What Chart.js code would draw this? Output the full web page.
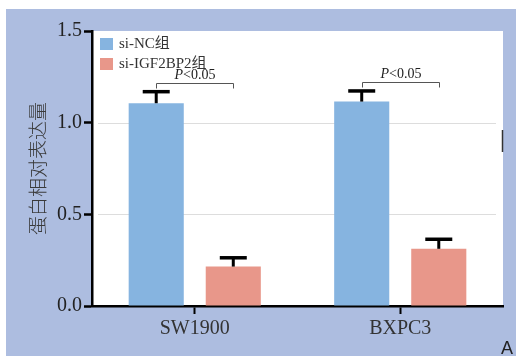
<!DOCTYPE html>
<html>
<head>
<meta charset="utf-8">
<script src="https://cdn.jsdelivr.net/npm/chart.js@4/dist/chart.umd.min.js"></script>
<style>
  body { margin: 0; background: #fff; }
</style>
</head>
<body>
<canvas id="bar-graph" width="516" height="356"></canvas>
<script>
const ctx = document.getElementById('bar-graph');
const COLOR_BLUE = '#86b4e0';
const COLOR_RED = '#e8978a';
const COLOR_BG = '#adbde0';
const SERIF = "'Liberation Serif', 'Noto Sans CJK SC', serif";

const categories = ['SW1900', 'BXPC3'];
const seriesNames = ['si-NC组', 'si-IGF2BP2组'];
const ncValues = [1.106, 1.115];
const ncErrors = [0.063, 0.058];
const igfValues = [0.215, 0.312];
const igfErrors = [0.048, 0.052];
const pLabels = ['P<0.05', 'P<0.05'];
const yTicks = [0, 0.5, 1.0, 1.5];

// background frame + white plot area
const framePlugin = {
    id: 'frame',
    beforeDraw(chart) {
        const c = chart.ctx;
        const a = chart.chartArea;
        c.save();
        c.fillStyle = COLOR_BG;
        c.fillRect(6, 9, chart.width - 6, chart.height - 9);
        c.fillStyle = '#fff';
        c.fillRect(a.left, a.top, a.right - a.left, a.bottom - a.top);
        // light grid lines, inset from the edges
        const y = chart.scales.y;
        c.strokeStyle = '#dddddd';
        c.lineWidth = 1;
        yTicks.forEach(v => {
            if (v === 0 || v === 1.5) return;
            const py = Math.round(y.getPixelForValue(v)) + 0.5;
            c.beginPath();
            c.moveTo(a.left + 6, py);
            c.lineTo(a.right - 7, py);
            c.stroke();
        });
        c.restore();
    },
    afterDraw(chart) {
        const c = chart.ctx;
        c.save();
        c.fillStyle = '#222';
        c.font = "18px 'Liberation Sans', sans-serif";
        c.textAlign = 'right';
        c.textBaseline = 'alphabetic';
        c.fillText('A', 513, 354);
        c.strokeStyle = '#333';
        c.lineWidth = 1.5;
        c.beginPath();
        c.moveTo(502.5, 130);
        c.lineTo(502.5, 152);
        c.stroke();
        c.restore();
    }
};

// error bars, significance brackets and legend
const annotPlugin = {
    id: 'annot',
    afterDatasetsDraw(chart) {
        const c = chart.ctx;
        const y = chart.scales.y;
        const errs = [ncErrors, igfErrors];
        c.save();
        c.strokeStyle = '#000';
        chart.data.datasets.forEach((ds, di) => {
            chart.getDatasetMeta(di).data.forEach((bar, i) => {
                const top = y.getPixelForValue(ds.data[i] + errs[di][i]);
                c.lineWidth = 3;
                c.beginPath();
                c.moveTo(bar.x, bar.y);
                c.lineTo(bar.x, top);
                c.stroke();
                c.lineWidth = 3.5;
                c.beginPath();
                c.moveTo(bar.x - 13.5, top);
                c.lineTo(bar.x + 13.5, top);
                c.stroke();
            });
        });
        // brackets
        const m0 = chart.getDatasetMeta(0).data;
        const m1 = chart.getDatasetMeta(1).data;
        categories.forEach((cat, i) => {
            const topVal = Math.max(ncValues[i] + ncErrors[i], igfValues[i] + igfErrors[i]);
            const by = Math.round(y.getPixelForValue(topVal)) - 8.5;
            const x0 = Math.round(m0[i].x) + 0.5;
            const x1 = Math.round(m1[i].x) + 0.5;
            c.strokeStyle = '#555';
            c.lineWidth = 1;
            c.beginPath();
            c.moveTo(x0, by + 5);
            c.lineTo(x0, by);
            c.lineTo(x1, by);
            c.lineTo(x1, by + 5);
            c.stroke();
            const label = pLabels[i];
            c.fillStyle = '#222';
            c.textBaseline = 'alphabetic';
            c.font = "italic 14px " + SERIF;
            const wP = c.measureText(label[0]).width;
            c.font = "14px " + SERIF;
            const wR = c.measureText(label.slice(1)).width;
            const sx = (x0 + x1) / 2 - (wP + wR) / 2;
            c.textAlign = 'left';
            c.font = "italic 14px " + SERIF;
            c.fillText(label[0], sx, by - 5);
            c.font = "14px " + SERIF;
            c.fillText(label.slice(1), sx + wP, by - 5);
        });
        // legend
        const a = chart.chartArea;
        chart.data.datasets.forEach((ds, di) => {
            const ly = a.top + 7 + di * 20;
            c.fillStyle = ds.backgroundColor;
            c.fillRect(a.left + 8, ly, 13, 12);
            c.fillStyle = '#333';
            c.font = "15px " + SERIF;
            c.textAlign = 'left';
            c.textBaseline = 'middle';
            c.fillText(ds.label, a.left + 27, ly + 6.5);
        });
        c.restore();
    }
};

new Chart(ctx, {
    type: 'bar',
    data: {
        labels: categories,
        datasets: [
            { label: seriesNames[0], data: ncValues, backgroundColor: COLOR_BLUE },
            { label: seriesNames[1], data: igfValues, backgroundColor: COLOR_RED }
        ]
    },
    options: {
        responsive: false,
        animation: false,
        events: [],
        layout: { padding: { left: 0, top: 31, right: 13, bottom: 0 } },
        datasets: {
            bar: { categoryPercentage: 0.75, barPercentage: 0.715 }
        },
        plugins: {
            legend: { display: false },
            tooltip: { enabled: false }
        },
        scales: {
            x: {
                afterFit(scale) { scale.height = 50; },
                border: { color: '#000', width: 2.5 },
                grid: {
                    offset: false,
                    drawOnChartArea: false,
                    tickLength: 8,
                    tickColor: '#000',
                    tickWidth: 2
                },
                ticks: {
                    color: '#333',
                    padding: 3,
                    font: { family: SERIF, size: 20 }
                }
            },
            y: {
                min: 0,
                max: 1.5,
                afterFit(scale) { scale.width = 92; },
                afterBuildTicks(scale) { scale.ticks = yTicks.map(v => ({ value: v })); },
                border: { color: '#000', width: 2.5 },
                grid: {
                    drawOnChartArea: false,
                    tickLength: 8,
                    tickColor: '#000',
                    tickWidth: 2.5
                },
                ticks: {
                    color: '#222',
                    padding: 2,
                    font: { family: SERIF, size: 20 },
                    callback: v => v.toFixed(1)
                },
                title: {
                    display: true,
                    text: '蛋白相对表达量',
                    color: '#3a3a3a',
                    padding: { top: 26, bottom: 0 },
                    font: { family: "'Noto Sans CJK SC', sans-serif", size: 19, weight: 300 }
                }
            }
        }
    },
    plugins: [framePlugin, annotPlugin]
});
</script>
</body>
</html>
